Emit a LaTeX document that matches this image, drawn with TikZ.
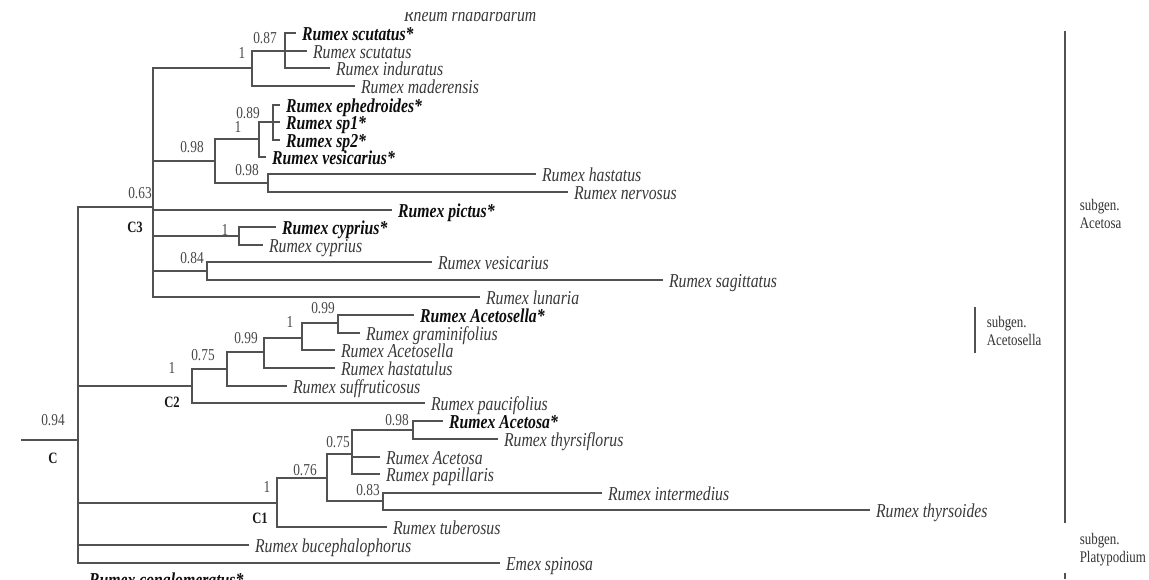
\documentclass[tikz,border=0pt]{standalone}
\usepackage{fontspec}
\setmainfont{Liberation Serif}[FakeStretch=0.8]

\begin{document}
\begin{tikzpicture}[x=0.02cm, y=-0.02cm, line width=0.9pt]
\tikzstyle{branch}=[draw=black!68]
\tikzstyle{taxon}=[anchor=west, inner xsep=3pt, inner ysep=0pt, text height=9pt, text depth=0pt, font=\fontsize{11.2}{12}\selectfont\itshape, text=black!78]
\tikzstyle{sample}=[taxon, font=\fontsize{11.2}{12}\selectfont\bfseries\itshape, text=black!95]
\tikzstyle{prob}=[inner sep=0pt, font=\fontsize{9.5}{10}\selectfont, text=black!72]
\tikzstyle{clade}=[inner sep=0pt, font=\fontsize{9}{10}\selectfont\bfseries, text=black!90]
\tikzstyle{subgen}=[anchor=west, align=left, inner sep=0pt, font=\fontsize{9.2}{10.2}\selectfont, text=black!80]
\useasboundingbox (0,0) rectangle (1149,579);

% internal nodes
\coordinate (stem) at (21,440);
\coordinate (root) at (78,440);
\coordinate (c3) at (153,207);
\coordinate (c2) at (192,386);
\coordinate (c1) at (277,503);
\coordinate (nA) at (252,68);
\coordinate (n87) at (285,51);
\coordinate (nB) at (215,161);
\coordinate (nB1) at (259,139);
\coordinate (n89) at (273,122);
\coordinate (nB2) at (268,183);
\coordinate (nCy) at (239,236);
\coordinate (n84) at (207,271);
\coordinate (n75a) at (227,369);
\coordinate (n99a) at (264,352);
\coordinate (n1c) at (302,338);
\coordinate (n99b) at (338,323);
\coordinate (n76) at (327,478);
\coordinate (n75b) at (352,454);
\coordinate (n98) at (413,430);
\coordinate (n83) at (383,501);

% taxa
\begin{scope}
\clip (0,12) rectangle (1149,579);
\node[taxon] (rheum) at (398,13.5) {Rheum rhabarbarum};
\end{scope}
\node[sample] (scutA) at (296,33) {Rumex scutatus*};
\node[taxon] (scutB) at (307,51) {Rumex scutatus};
\node[taxon] (indur) at (330,68) {Rumex induratus};
\node[taxon] (mader) at (355,86) {Rumex maderensis};
\node[sample] (ephed) at (280,105) {Rumex ephedroides*};
\node[sample] (spA) at (280,122) {Rumex sp1*};
\node[sample] (spB) at (280,140) {Rumex sp2*};
\node[sample] (vesA) at (266,157) {Rumex vesicarius*};
\node[taxon] (hast) at (536,174) {Rumex hastatus};
\node[taxon] (nerv) at (568,192) {Rumex nervosus};
\node[sample] (pict) at (392,210) {Rumex pictus*};
\node[sample] (cypA) at (276,227) {Rumex cyprius*};
\node[taxon] (cypB) at (263,245) {Rumex cyprius};
\node[taxon] (vesB) at (432,262) {Rumex vesicarius};
\node[taxon] (sagit) at (663,280) {Rumex sagittatus};
\node[taxon] (lunar) at (480,297) {Rumex lunaria};
\node[sample] (acsA) at (414,315) {Rumex Acetosella*};
\node[taxon] (gram) at (360,333) {Rumex graminifolius};
\node[taxon] (acsB) at (335,350) {Rumex Acetosella};
\node[taxon] (hastl) at (335,368) {Rumex hastatulus};
\node[taxon] (suffr) at (287,386) {Rumex suffruticosus};
\node[taxon] (pauci) at (425,403) {Rumex paucifolius};
\node[sample] (acoA) at (443,421) {Rumex Acetosa*};
\node[taxon] (thysf) at (498,439) {Rumex thyrsiflorus};
\node[taxon] (acoB) at (380,457) {Rumex Acetosa};
\node[taxon] (papil) at (380,474) {Rumex papillaris};
\node[taxon] (inter) at (602,493) {Rumex intermedius};
\node[taxon] (thyso) at (870,510) {Rumex thyrsoides};
\node[taxon] (tuber) at (387,527) {Rumex tuberosus};
\node[taxon] (bucep) at (249,545) {Rumex bucephalophorus};
\node[taxon] (emex) at (500,563) {Emex spinosa};
\node[sample] (congl) at (83,579) {Rumex conglomeratus*};

% branches
\draw[branch, line width=1.3pt] (stem) -- (root);
\foreach \p/\c in {root/c3, root/c2, root/c1, root/bucep.west, root/emex.west,
  c3/nA, c3/nB, c3/pict.west, c3/nCy, c3/n84, c3/lunar.west,
  nA/n87, nA/mader.west, n87/scutA.west, n87/scutB.west, n87/indur.west,
  nB/nB1, nB/nB2, nB1/n89, nB1/vesA.west,
  n89/ephed.west, n89/spA.west, n89/spB.west,
  nB2/hast.west, nB2/nerv.west, nCy/cypA.west, nCy/cypB.west,
  n84/vesB.west, n84/sagit.west,
  c2/n75a, c2/pauci.west, n75a/n99a, n75a/suffr.west,
  n99a/n1c, n99a/hastl.west, n1c/n99b, n1c/acsB.west,
  n99b/acsA.west, n99b/gram.west,
  c1/n76, c1/tuber.west, n76/n75b, n76/n83,
  n75b/n98, n75b/acoB.west, n75b/papil.west,
  n98/acoA.west, n98/thysf.west, n83/inter.west, n83/thyso.west}
  \draw[branch] (\p) |- (\c);

% posterior probabilities and clade names
\node[prob] (pRoot) at (53,420) {0.94};
\node[clade] (lC) at (53,458) {C};
\node[prob] (pC3) at (140,193) {0.63};
\node[clade] (lC3) at (135,227) {C3};
\node[prob] (pA) at (242,53) {1};
\node[prob] (p87) at (265,38) {0.87};
\node[prob] (pB) at (192,147) {0.98};
\node[prob] (pB1) at (238,127) {1};
\node[prob] (p89) at (248,113) {0.89};
\node[prob] (pB2) at (247,170) {0.98};
\node[prob] (pCy) at (225,230) {1};
\node[prob] (p84) at (192,258) {0.84};
\node[prob] (pC2) at (172,368) {1};
\node[clade] (lC2) at (172,402) {C2};
\node[prob] (p75a) at (203,355) {0.75};
\node[prob] (p99a) at (246,338) {0.99};
\node[prob] (p1c) at (290,322) {1};
\node[prob] (p99b) at (323,308) {0.99};
\node[prob] (pC1) at (267,487) {1};
\node[clade] (lC1) at (260,518) {C1};
\node[prob] (p76) at (305,470) {0.76};
\node[prob] (p75b) at (338,442) {0.75};
\node[prob] (p98) at (397,420) {0.98};
\node[prob] (p83) at (368,490) {0.83};

% subgenera
\coordinate (acetTop) at (1065,31);
\coordinate (acetBot) at (1065,523);
\coordinate (aslTop) at (975,307);
\coordinate (aslBot) at (975,353);
\coordinate (rumTop) at (1065,573);
\coordinate (rumBot) at (1065,579);
\draw[branch] (acetTop) -- (acetBot);
\draw[branch] (aslTop) -- (aslBot);
\draw[branch] (rumTop) -- (rumBot);
\node[subgen] (sAcet) at (1079,214) {subgen.\\Acetosa};
\node[subgen] (sAsl) at (986,331) {subgen.\\Acetosella};
\node[subgen] (sPlat) at (1079,550) {subgen.\\Platypodium};
\end{tikzpicture}
\end{document}
